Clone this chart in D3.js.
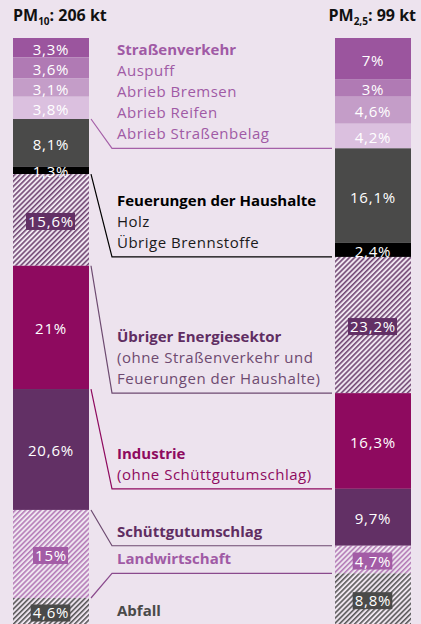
<!DOCTYPE html>
<html>
<head>
<meta charset="utf-8">
<script src="https://cdn.jsdelivr.net/npm/d3@7"></script>
<style>
  body { margin: 0; background: #ede3ee; }
  svg { display: block; font-family: "Open Sans", sans-serif; }
</style>
</head>
<body>
<div id="chart"></div>
<script>
// shares in percent, top to bottom
var categories = ["Auspuff", "Abrieb Bremsen", "Abrieb Reifen", "Abrieb Straßenbelag",
                  "Holz", "Übrige Brennstoffe", "Übriger Energiesektor", "Industrie",
                  "Schüttgutumschlag", "Landwirtschaft", "Abfall"];
var pm10 = [3.3, 3.6, 3.1, 3.8, 8.1, 1.3, 15.6, 21, 20.6, 15, 4.6];
var pm25 = [7, 3, 4.6, 4.2, 16.1, 2.4, 23.2, 16.3, 9.7, 4.7, 8.8];
var totals = ["206 kt", "99 kt"];

// label groups in the middle: first/last category index, text lines
var groups = [
  { from: 0, to: 3, lines: ["Straßenverkehr", "Auspuff", "Abrieb Bremsen", "Abrieb Reifen", "Abrieb Straßenbelag"] },
  { from: 4, to: 5, lines: ["Feuerungen der Haushalte", "Holz", "Übrige Brennstoffe"] },
  { from: 6, to: 6, lines: ["Übriger Energiesektor", "(ohne Straßenverkehr und", "Feuerungen der Haushalte)"] },
  { from: 7, to: 7, lines: ["Industrie", "(ohne Schüttgutumschlag)"] },
  { from: 8, to: 8, lines: ["Schüttgutumschlag"] },
  { from: 9, to: 9, lines: ["Landwirtschaft"] },
  { from: 10, to: 10, lines: ["Abfall"] }
];

const width = 421, height = 624;
const colW = 76;
const leftX = 13, rightX = 335;

var fills = ["#9b559e", "#b07ab4", "#c49dc8", "#dbc0df", "#4a4a49", "#000000",
             "url(#hEnergie)", "#8e0a5f", "#623065", "url(#hLand)", "url(#hAbfall)"];
var boxFill = { 6: "#623065", 9: "#a35ca6", 10: "#4a4a49" };
var groupColor = ["#a05aa5", "#000000", "#5f2d62", "#8e0a5f", "#5f2d62", "#a05aa5", "#4a4a49"];
var subColor = ["#a05aa5", "#1a1a1a", "#6d4a70", "#8e0a5f", "#5f2d62", "#a05aa5", "#4a4a49"];
var lineColor = ["#a560a8", "#000000", "#6d4a70", "#8e0a5f", "#6d4a70", "#8a4a8d", null];

var y = d3.scaleLinear().domain([0, 100]).range([38, 625]);

var svg = d3.select("#chart").append("svg")
  .attr("width", width).attr("height", height);

var defs = svg.append("defs");
function hatch(id, color) {
  var p = defs.append("pattern")
    .attr("id", id)
    .attr("patternUnits", "userSpaceOnUse")
    .attr("width", 3.6).attr("height", 3.6)
    .attr("patternTransform", "rotate(45)");
  p.append("rect").attr("width", 3.6).attr("height", 3.6).attr("fill", "#efe6f0");
  p.append("line").attr("x1", 0.8).attr("x2", 0.8).attr("y1", 0).attr("y2", 3.6)
    .attr("stroke", color).attr("stroke-width", 1.5);
}
hatch("hEnergie", "#6b3f6d");
hatch("hLand", "#b175b4");
hatch("hAbfall", "#505050");

function stack(values) {
  var acc = 0;
  return values.map(function(v, i) {
    var d = { i: i, v: v, y0: acc, y1: acc + v };
    acc += v;
    return d;
  });
}

function fmt(v) { return String(v).replace(".", ",") + "%"; }

function drawColumn(values, x0) {
  var data = stack(values);
  var g = svg.append("g");
  g.selectAll("rect.seg")
    .data(data)
    .enter().append("rect")
    .attr("class", "seg")
    .attr("x", x0)
    .attr("y", function(d) { return y(d.y0); })
    .attr("width", colW)
    .attr("height", function(d) { return y(d.y1) - y(d.y0); })
    .attr("fill", function(d) { return fills[d.i]; });

  var labels = g.selectAll("g.lab")
    .data(data)
    .enter().append("g").attr("class", "lab");
  labels.append("text")
    .attr("x", x0 + colW / 2)
    .attr("y", function(d) { return (y(d.y0) + y(d.y1)) / 2 + 1; })
    .attr("text-anchor", "middle")
    .attr("dominant-baseline", "central")
    .attr("fill", "#fff")
    .style("font-size", "15px")
    .style("letter-spacing", "0.8px")
    .text(function(d) { return fmt(d.v); });
  labels.each(function(d) {
    if (boxFill[d.i] === undefined) return;
    var t = d3.select(this).select("text");
    var bb = t.node().getBBox();
    d3.select(this).insert("rect", "text")
      .attr("x", bb.x - 2).attr("y", bb.y + 2)
      .attr("width", bb.width + 3).attr("height", bb.height - 3)
      .attr("fill", boxFill[d.i]);
  });
  return data;
}

var left = drawColumn(pm10, leftX);
var right = drawColumn(pm25, rightX);

// titles
function title(x, anchor, sub, total) {
  var t = svg.append("text")
    .attr("x", x).attr("y", 21)
    .attr("text-anchor", anchor)
    .style("font-size", "16px").style("font-weight", "bold")
    .attr("fill", "#111");
  t.append("tspan").text("PM");
  t.append("tspan").attr("dy", 4).style("font-size", "10px").text(sub);
  t.append("tspan").attr("dy", -4).text(": " + total);
}
title(leftX, "start", "10", totals[0]);
title(416, "end", "2,5", totals[1]);

// connectors and group labels
var textX = 117;
groups.forEach(function(gr, k) {
  var yl = y(left[gr.to].y1), yr = y(right[gr.to].y1);
  var baseY;
  if (lineColor[k]) {
    svg.append("path")
      .attr("d", d3.line()([[leftX + colW + 2, yl], [112, yr], [rightX - 3, yr]]))
      .attr("fill", "none")
      .attr("stroke", lineColor[k])
      .attr("stroke-width", 1.2);
    baseY = yr - 9;
  } else {
    baseY = (y(left[gr.to].y0) + y(left[gr.to].y1)) / 2 + 5;
  }
  var n = gr.lines.length;
  svg.selectAll(null)
    .data(gr.lines)
    .enter().append("text")
    .attr("x", textX)
    .attr("y", function(d, i) { return baseY - (n - 1 - i) * 21; })
    .attr("fill", function(d, i) { return i === 0 ? groupColor[k] : subColor[k]; })
    .style("font-size", "15px")
    .style("letter-spacing", function(d, i) { return i === 0 ? "0px" : "0.5px"; })
    .style("font-weight", function(d, i) { return i === 0 ? "bold" : "normal"; })
    .text(function(d) { return d; });
});
</script>
</body>
</html>
